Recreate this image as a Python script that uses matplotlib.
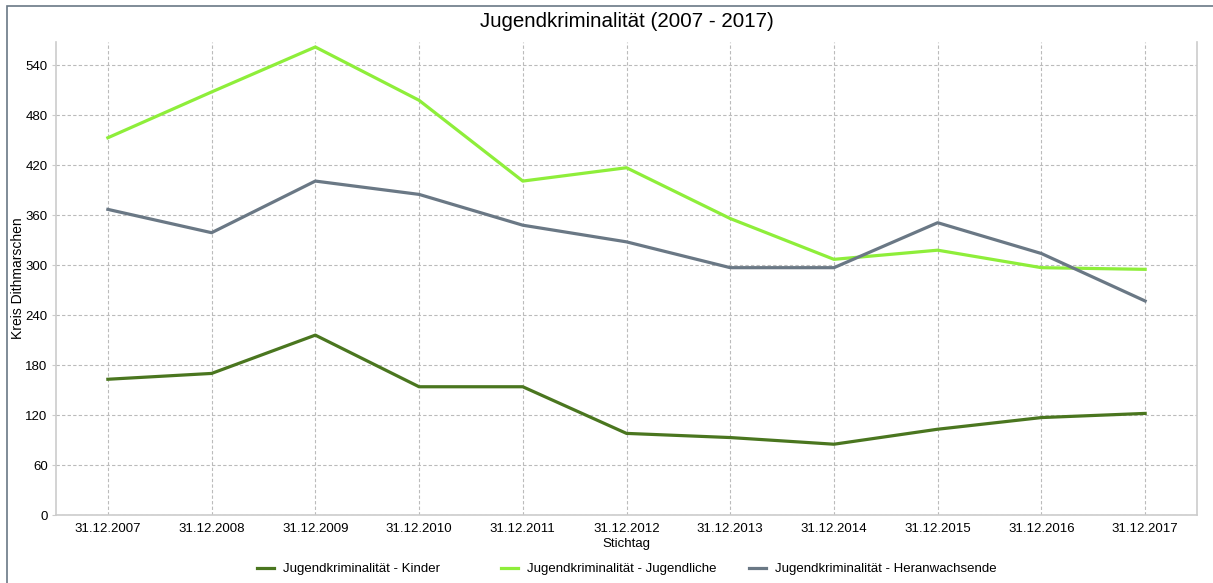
import matplotlib.pyplot as plt
from matplotlib.patches import Rectangle

plt.rcParams['font.family'] = ['Liberation Sans', 'DejaVu Sans']

stichtage = ['31.12.2007', '31.12.2008', '31.12.2009', '31.12.2010', '31.12.2011',
             '31.12.2012', '31.12.2013', '31.12.2014', '31.12.2015', '31.12.2016',
             '31.12.2017']
kinder = [163, 170, 216, 154, 154, 98, 93, 85, 103, 117, 122]
jugendliche = [453, 508, 562, 498, 401, 417, 356, 307, 318, 297, 295]
heranwachsende = [367, 339, 401, 385, 348, 328, 297, 297, 351, 314, 257]
y_ticks = [0, 60, 120, 180, 240, 300, 360, 420, 480, 540]

series = [
    ('Jugendkriminalität - Kinder', kinder, '#4a761f'),
    ('Jugendkriminalität - Jugendliche', jugendliche, '#8eee3a'),
    ('Jugendkriminalität - Heranwachsende', heranwachsende, '#6a7885'),
]
# left edge of each legend entry, in pixels
legend_x = [257, 501, 749]

W, H = 1213, 583
fig = plt.figure(figsize=(W / 100, H / 100), dpi=100)
ax = fig.add_axes([56 / W, 1 - 515 / H, 1141 / W, 473 / H])

# outer frame, only left and top edges fall inside the canvas
fig.patches.append(Rectangle((7 / W, -0.1), 1.2, 1 - 6 / H + 0.1,
                             transform=fig.transFigure, fill=False,
                             edgecolor='#6a7885', linewidth=1.2))

x = range(len(stichtage))
lines = []
for label, values, color in series:
    ln, = ax.plot(x, values, color=color, linewidth=2.3, label=label,
                  solid_joinstyle='round')
    lines.append(ln)

ax.set_xlim(-0.5, len(stichtage) - 0.5)
ax.set_ylim(0, 568)
ax.set_xticks(list(x))
ax.set_xticklabels(stichtage, fontsize=9.5)
ax.set_yticks(y_ticks)
ax.tick_params(axis='y', labelsize=9.5, length=3, color='#cccccc', pad=3)
ax.tick_params(axis='x', length=0, pad=6)

ax.grid(True, linestyle=(0, (3, 2)), color='#bbbbbb', linewidth=0.8)
ax.set_axisbelow(True)
ax.spines['top'].set_visible(False)
for side in ('left', 'right', 'bottom'):
    ax.spines[side].set_color('#cccccc')
    ax.spines[side].set_linewidth(1.2)

ax.set_title('Jugendkriminalität (2007 - 2017)', fontsize=14.8, pad=11)
ax.set_xlabel('Stichtag', fontsize=9.5, labelpad=2)
ax.set_ylabel('Kreis Dithmarschen', fontsize=10)
ax.yaxis.set_label_coords((25 - 56) / 1141, 0.5)

# one legend per series so the entries sit at fixed positions
for ln, lx in zip(lines, legend_x):
    fig.legend(handles=[ln], loc='center left',
               bbox_to_anchor=(lx / W, 1 - 569 / H), frameon=False,
               fontsize=9.5, handlelength=1.3, handletextpad=0.7,
               borderpad=0, borderaxespad=0)

fig.savefig('out.png', dpi=100)
